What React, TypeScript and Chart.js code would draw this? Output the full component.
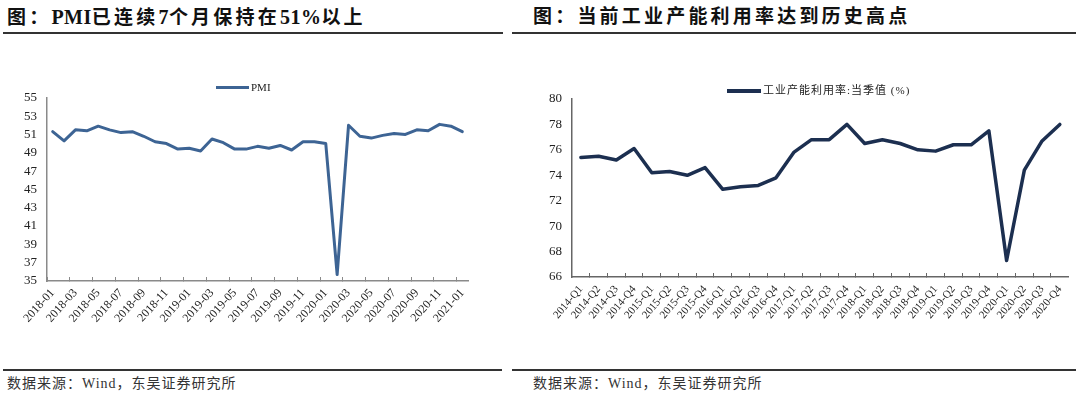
import React, { useEffect, useRef } from 'react';
import { Chart, registerables } from 'chart.js';

Chart.register(...registerables);

// ---------- Data ----------
const pmiMonths = [
  '2018-01', '2018-02', '2018-03', '2018-04', '2018-05', '2018-06', '2018-07', '2018-08', '2018-09', '2018-10', '2018-11', '2018-12',
  '2019-01', '2019-02', '2019-03', '2019-04', '2019-05', '2019-06', '2019-07', '2019-08', '2019-09', '2019-10', '2019-11', '2019-12',
  '2020-01', '2020-02', '2020-03', '2020-04', '2020-05', '2020-06', '2020-07', '2020-08', '2020-09', '2020-10', '2020-11', '2020-12',
  '2021-01',
];
const pmiValues = [
  51.3, 50.3, 51.5, 51.4, 51.9, 51.5, 51.2, 51.3, 50.8, 50.2, 50.0, 49.4,
  49.5, 49.2, 50.5, 50.1, 49.4, 49.4, 49.7, 49.5, 49.8, 49.3, 50.2, 50.2,
  50.0, 35.7, 52.0, 50.8, 50.6, 50.9, 51.1, 51.0, 51.5, 51.4, 52.1, 51.9,
  51.3,
];
const pmiSeriesName = 'PMI';
const pmiYMin = 35;
const pmiYMax = 55;
const pmiYStep = 2;

const capQuarters = [
  '2014-Q1', '2014-Q2', '2014-Q3', '2014-Q4',
  '2015-Q1', '2015-Q2', '2015-Q3', '2015-Q4',
  '2016-Q1', '2016-Q2', '2016-Q3', '2016-Q4',
  '2017-Q1', '2017-Q2', '2017-Q3', '2017-Q4',
  '2018-Q1', '2018-Q2', '2018-Q3', '2018-Q4',
  '2019-Q1', '2019-Q2', '2019-Q3', '2019-Q4',
  '2020-Q1', '2020-Q2', '2020-Q3', '2020-Q4',
];
const capValues = [
  75.4, 75.5, 75.2, 76.1,
  74.2, 74.3, 74.0, 74.6,
  72.9, 73.1, 73.2, 73.8,
  75.8, 76.8, 76.8, 78.0,
  76.5, 76.8, 76.5, 76.0,
  75.9, 76.4, 76.4, 77.5,
  67.3, 74.4, 76.7, 78.0,
];
const capSeriesName = '工业产能利用率:当季值 (%)';
const capYMin = 66;
const capYMax = 80;
const capYStep = 2;

// Title pieces: [text, isLatin]
const leftTitleParts: [string, boolean][] = [
  ['图：', false], ['PMI', true], ['已连续', false], ['7', true], ['个月保持在', false], ['51%', true], ['以上', false],
];
const rightTitleParts: [string, boolean][] = [['图：当前工业产能利用率达到历史高点', false]];
const sourceText = '数据来源：Wind，东吴证券研究所';

// ---------- Styles ----------
const SERIF = '"Liberation Serif", "Times New Roman", serif';
const CJK = '"Liberation Serif", "Noto Sans CJK SC", serif';

type ChartProps = {
  labels: string[];
  values: number[];
  name: string;
  yMin: number;
  yMax: number;
  yStep: number;
  color: string;
  lineWidth: number;
  yAxisWidth: number;
  xAxisHeight: number;
  padTop: number;
  padRight: number;
  labelEvery: number;
  xFontSize: number;
  xRotation: number;
  xPadding: number;
  axisColor: string;
  style: React.CSSProperties;
  width: number;
  height: number;
};

function LineChart(p: ChartProps) {
  const ref = useRef<HTMLCanvasElement | null>(null);
  useEffect(() => {
    if (!ref.current) return;
    const chart = new Chart(ref.current, {
      type: 'line',
      data: {
        labels: p.labels,
        datasets: [
          {
            label: p.name,
            data: p.values,
            borderColor: p.color,
            backgroundColor: p.color,
            borderWidth: p.lineWidth,
            pointRadius: 0,
            tension: 0,
            borderJoinStyle: 'round',
            borderCapStyle: 'round',
          },
        ],
      },
      options: {
        animation: false,
        responsive: false,
        maintainAspectRatio: false,
        devicePixelRatio: 1,
        layout: { padding: { top: p.padTop, right: p.padRight, left: 0, bottom: 0 } },
        plugins: { legend: { display: false }, tooltip: { enabled: false } },
        scales: {
          x: {
            type: 'category',
            offset: true,
            afterFit: (s: any) => {
              s.height = p.xAxisHeight;
            },
            grid: {
              display: true,
              drawOnChartArea: false,
              drawTicks: true,
              offset: true,
              tickLength: -4,
              tickWidth: 1,
              tickColor: (ctx: any) =>
                typeof ctx.index === 'number' && ctx.index % p.labelEvery === 0 ? p.axisColor : 'rgba(0,0,0,0)',
            },
            border: { display: true, color: p.axisColor, width: 1.5 },
            ticks: {
              autoSkip: false,
              minRotation: p.xRotation,
              maxRotation: p.xRotation,
              padding: p.xPadding,
              color: '#222',
              font: { family: SERIF, size: p.xFontSize },
              callback: function (this: any, value: any, index: number) {
                return index % p.labelEvery === 0 ? this.getLabelForValue(value) : '';
              },
            },
          },
          y: {
            min: p.yMin,
            max: p.yMax,
            afterFit: (s: any) => {
              s.width = p.yAxisWidth;
            },
            grid: { display: false, drawTicks: false },
            border: { display: true, color: p.axisColor, width: 1.5 },
            ticks: {
              stepSize: p.yStep,
              autoSkip: false,
              padding: 10,
              color: '#222',
              font: { family: SERIF, size: 13 },
            },
          },
        },
      },
    });
    return () => chart.destroy();
  }, []);
  return (
    <canvas
      ref={ref}
      width={p.width}
      height={p.height}
      style={{ position: 'absolute', width: p.width, height: p.height, ...p.style }}
    />
  );
}

function HLine({ x1, x2, y, w = 2, color = '#333' }: { x1: number; x2: number; y: number; w?: number; color?: string }) {
  return <div style={{ position: 'absolute', left: x1, top: y - w / 2, width: x2 - x1, height: w, background: color }} />;
}

function Text({ x, y, children, style }: { x: number; y: number; children: React.ReactNode; style?: React.CSSProperties }) {
  return (
    <div style={{ position: 'absolute', left: x, top: y, whiteSpace: 'nowrap', lineHeight: 1, ...style }}>{children}</div>
  );
}

const titleStyle: React.CSSProperties = {
  fontFamily: CJK,
  fontWeight: 700,
  fontSize: 19,
  letterSpacing: 3.2,
  color: '#111',
};
const sourceStyle: React.CSSProperties = {
  fontFamily: CJK,
  fontSize: 14,
  letterSpacing: 1,
  color: '#333',
};
const legendStyle: React.CSSProperties = {
  fontFamily: CJK,
  fontSize: 11,
  color: '#222',
};

function Title({ parts }: { parts: [string, boolean][] }) {
  return (
    <>
      {parts.map(([t, latin], i) => (
        <span key={i} style={latin ? { letterSpacing: 0.5, fontSize: 20 } : undefined}>
          {t}
        </span>
      ))}
    </>
  );
}

export default function App() {
  const pmiColor = '#3d6494';
  const capColor = '#1c2f50';
  return (
    <div style={{ position: 'absolute', left: 0, top: 0, width: 1080, height: 397, overflow: 'hidden', background: '#fff' }}>
      {/* Titles */}
      <Text x={7} y={7} style={titleStyle}><Title parts={leftTitleParts} /></Text>
      <HLine x1={3} x2={503} y={33} />
      <Text x={533} y={7} style={titleStyle}><Title parts={rightTitleParts} /></Text>
      <HLine x1={512} x2={1076} y={33} />

      {/* Left chart */}
      <LineChart
        labels={pmiMonths}
        values={pmiValues}
        name={pmiSeriesName}
        yMin={pmiYMin}
        yMax={pmiYMax}
        yStep={pmiYStep}
        color={pmiColor}
        lineWidth={3}
        yAxisWidth={47}
        xAxisHeight={70}
        padTop={16}
        padRight={20}
        labelEvery={2}
        xFontSize={12}
        xRotation={48}
        xPadding={9}
        axisColor="#8a8a8a"
        width={488}
        height={271}
        style={{ left: 0, top: 80 }}
      />
      <HLine x1={216} x2={249} y={87} w={3} color={pmiColor} />
      <Text x={251} y={82} style={{ ...legendStyle, fontFamily: SERIF }}>{pmiSeriesName}</Text>

      {/* Right chart */}
      <LineChart
        labels={capQuarters}
        values={capValues}
        name={capSeriesName}
        yMin={capYMin}
        yMax={capYMax}
        yStep={capYStep}
        color={capColor}
        lineWidth={3.5}
        yAxisWidth={62}
        xAxisHeight={60}
        padTop={19}
        padRight={4}
        labelEvery={1}
        xFontSize={11}
        xRotation={50}
        xPadding={10}
        axisColor="#666"
        width={570}
        height={257}
        style={{ left: 510, top: 80 }}
      />
      <HLine x1={727} x2={761} y={91} w={4} color={capColor} />
      <Text x={763} y={85} style={{ ...legendStyle, letterSpacing: 1 }}>{capSeriesName}</Text>

      {/* Sources */}
      <HLine x1={3} x2={502} y={370} />
      <Text x={7} y={377} style={sourceStyle}>{sourceText}</Text>
      <HLine x1={512} x2={1076} y={370} />
      <Text x={533} y={377} style={sourceStyle}>{sourceText}</Text>
    </div>
  );
}
